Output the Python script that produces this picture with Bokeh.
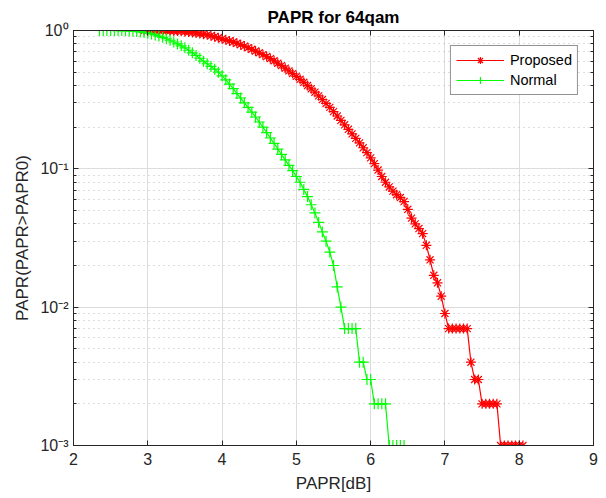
from bokeh.plotting import figure
from bokeh.models import (LogAxis, LinearAxis, LogTicker, FixedTicker,
                          CustomJSTickFormatter, Range1d)
from bokeh.embed import file_html
from bokeh.resources import INLINE

# ---------------- data ----------------
normal_x = [2.35, 2.40, 2.45, 2.50, 2.55, 2.60, 2.65, 2.70, 2.75, 2.80,
            2.85, 2.90, 2.95, 3.00, 3.05, 3.10, 3.15, 3.20, 3.25, 3.30,
            3.35, 3.40, 3.45, 3.50, 3.55, 3.60, 3.65, 3.70, 3.75, 3.80,
            3.85, 3.90, 3.95, 4.00, 4.05, 4.10, 4.15, 4.20, 4.25, 4.30,
            4.35, 4.40, 4.45, 4.50, 4.55, 4.60, 4.65, 4.70, 4.75, 4.80,
            4.85, 4.90, 4.95, 5.00, 5.05, 5.10, 5.15, 5.20, 5.25, 5.30,
            5.35, 5.40, 5.45, 5.50, 5.55, 5.60, 5.65, 5.70, 5.75, 5.80,
            5.85, 5.90, 5.95, 6.00, 6.05, 6.10, 6.15, 6.20, 6.25, 6.30,
            6.35, 6.40, 6.45]
normal_y = [1.0, 1.0, 1.0, 1.0, 1.0, 0.999, 0.998, 0.996, 0.993, 0.989,
            0.984, 0.977, 0.968, 0.957, 0.944, 0.929, 0.912, 0.893, 0.872, 0.850,
            0.826, 0.800, 0.775, 0.750, 0.720, 0.690, 0.660, 0.630, 0.600, 0.575,
            0.550, 0.525, 0.500, 0.470, 0.440, 0.410, 0.380, 0.350, 0.325, 0.300,
            0.278, 0.257, 0.237, 0.218, 0.200, 0.183, 0.167, 0.153, 0.139, 0.127,
            0.116, 0.106, 0.097, 0.088, 0.080, 0.071, 0.063, 0.055, 0.048, 0.041,
            0.035, 0.030, 0.025, 0.020, 0.014, 0.010, 0.007, 0.007, 0.007, 0.007,
            0.004, 0.004, 0.003, 0.003, 0.002, 0.002, 0.002, 0.002, 0.001, 0.001,
            0.001, 0.001, 0.001]

proposed_x = [2.95, 3.00, 3.05, 3.10, 3.15, 3.20, 3.25, 3.30, 3.35, 3.40,
              3.45, 3.50, 3.55, 3.60, 3.65, 3.70, 3.75, 3.80, 3.85, 3.90,
              3.95, 4.00, 4.05, 4.10, 4.15, 4.20, 4.25, 4.30, 4.35, 4.40,
              4.45, 4.50, 4.55, 4.60, 4.65, 4.70, 4.75, 4.80, 4.85, 4.90,
              4.95, 5.00, 5.05, 5.10, 5.15, 5.20, 5.25, 5.30, 5.35, 5.40,
              5.45, 5.50, 5.55, 5.60, 5.65, 5.70, 5.75, 5.80, 5.85, 5.90,
              5.95, 6.00, 6.05, 6.10, 6.15, 6.20, 6.25, 6.30, 6.35, 6.40,
              6.45, 6.50, 6.55, 6.60, 6.65, 6.70, 6.75, 6.80, 6.85, 6.90,
              6.95, 7.00, 7.05, 7.10, 7.15, 7.20, 7.25, 7.30, 7.35, 7.40,
              7.45, 7.50, 7.55, 7.60, 7.65, 7.70, 7.75, 7.80, 7.85, 7.90,
              7.95, 8.00, 8.05]
proposed_y = [1.0, 1.0, 1.0, 1.0, 0.999, 0.998, 0.997, 0.995, 0.993, 0.990,
              0.986, 0.981, 0.975, 0.968, 0.960, 0.951, 0.941, 0.930, 0.917, 0.902,
              0.886, 0.870, 0.856, 0.841, 0.825, 0.808, 0.790, 0.771, 0.751, 0.731,
              0.710, 0.690, 0.669, 0.648, 0.626, 0.604, 0.580, 0.557, 0.534, 0.511,
              0.488, 0.466, 0.444, 0.422, 0.400, 0.379, 0.358, 0.337, 0.317, 0.297,
              0.278, 0.259, 0.241, 0.224, 0.208, 0.193, 0.179, 0.166, 0.154, 0.142,
              0.131, 0.120, 0.109, 0.098, 0.088, 0.080, 0.074, 0.069, 0.065, 0.062,
              0.058, 0.051, 0.044, 0.040, 0.037, 0.034, 0.028, 0.022, 0.017, 0.015,
              0.012, 0.009, 0.007, 0.007, 0.007, 0.007, 0.007, 0.007, 0.004, 0.003,
              0.003, 0.002, 0.002, 0.002, 0.002, 0.002, 0.001, 0.001, 0.001, 0.001,
              0.001, 0.001, 0.001]

x_ticks = [2, 3, 4, 5, 6, 7, 8, 9]
x_limits = (2, 9)
y_limits = (1e-3, 1.0)

FONT = "Liberation Sans"
AX = "#262626"

p = figure(width=600, height=496, x_range=Range1d(*x_limits),
           y_range=Range1d(*y_limits), y_axis_type="log",
           output_backend="svg", toolbar_location=None,
           title="PAPR for 64qam",
           min_border_left=73, min_border_right=7,
           min_border_top=30, min_border_bottom=51)
p.background_fill_color = "white"
p.border_fill_color = "white"
p.outline_line_color = AX
p.outline_line_width = 1

p.title.align = "center"
p.title.text_font = FONT
p.title.text_font_size = "17px"
p.title.text_font_style = "bold"
p.title.text_color = "black"
p.title.standoff = 7

sup_js = """
const sup = {"0":"\\u2070","1":"\\u00b9","2":"\\u00b2","3":"\\u00b3","4":"\\u2074","-":"\\u207b"};
const e = Math.round(Math.log10(tick));
return "10" + String(e).split("").map(c => sup[c]).join("");
"""

def style_axis(ax):
    ax.axis_line_color = AX
    ax.major_tick_line_color = AX
    ax.minor_tick_line_color = AX
    ax.major_tick_in = 5
    ax.major_tick_out = 0
    ax.minor_tick_in = 3
    ax.minor_tick_out = 0
    ax.major_label_text_font = FONT
    ax.major_label_text_font_size = "16px"
    ax.major_label_text_color = AX
    ax.axis_label_text_font = FONT
    ax.axis_label_text_font_size = "17px"
    ax.axis_label_text_font_style = "normal"
    ax.axis_label_text_color = AX

xt = FixedTicker(ticks=x_ticks, minor_ticks=[])
yt = LogTicker(num_minor_ticks=10)

xa = p.xaxis[0]
xa.ticker = xt
style_axis(xa)
xa.axis_label = "PAPR[dB]"
xa.major_label_standoff = 7
xa.axis_label_standoff = 6

ya = p.yaxis[0]
ya.ticker = yt
ya.formatter = CustomJSTickFormatter(code=sup_js)
style_axis(ya)
ya.axis_label = "PAPR(PAPR>PAPR0)"
ya.major_label_standoff = 5
ya.axis_label_standoff = 5

top = LinearAxis(ticker=FixedTicker(ticks=x_ticks, minor_ticks=[]),
                 formatter=CustomJSTickFormatter(code="return '';"))
style_axis(top)
top.major_label_text_font_size = "8px"
top.major_label_standoff = 0
p.add_layout(top, "above")
right = LogAxis(ticker=LogTicker(num_minor_ticks=10),
                formatter=CustomJSTickFormatter(code="return '';"))
style_axis(right)
right.major_label_text_font_size = "8px"
right.major_label_standoff = 0
p.add_layout(right, "right")

p.xgrid.ticker = xt
p.xgrid.grid_line_color = "#dcdcdc"
p.ygrid.grid_line_color = "#dcdcdc"
p.ygrid.minor_grid_line_color = "#bdbdbd"
p.ygrid.minor_grid_line_dash = "1 4"

RED = "#ff0000"
GREEN = "#00ff00"
p.line(proposed_x, proposed_y, line_color=RED, line_width=1.2, legend_label="Proposed")
p.scatter(proposed_x, proposed_y, marker="asterisk", size=10, line_color=RED,
          line_width=1.2, legend_label="Proposed")
p.line(normal_x, normal_y, line_color=GREEN, line_width=1.2, legend_label="Normal")
p.scatter(normal_x, normal_y, marker="cross", size=11, line_color=GREEN,
          line_width=1.2, legend_label="Normal")

lg = p.legend[0]
lg.location = "top_right"
lg.margin = 15
lg.padding = 5
lg.spacing = 2
lg.glyph_width = 48
lg.glyph_height = 18
lg.label_height = 18
lg.label_standoff = 6
lg.label_text_font = FONT
lg.label_text_font_size = "14.5px"
lg.label_text_color = "black"
lg.border_line_color = AX
lg.border_line_width = 1
lg.background_fill_color = "white"
lg.background_fill_alpha = 1.0

open("out.html", "w").write(file_html(p, INLINE))
